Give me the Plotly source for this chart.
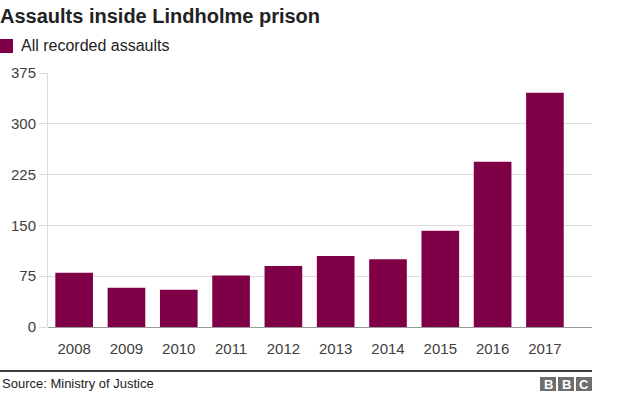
import plotly.graph_objects as go

years = ["2008", "2009", "2010", "2011", "2012", "2013", "2014", "2015", "2016", "2017"]
assaults = [80, 58, 55, 76, 90, 105, 100, 142, 244, 346]
y_ticks = [0, 75, 150, 225, 300, 375]

W, H = 624, 395
L, R, T, B = 48, 32, 73, 68
PW, PH = W - L - R, H - T - B

def px(x):
    return (x - L) / PW

def py(y):
    return (H - B - y) / PH

BAR = "#800048"
FONT = "Liberation Sans, Arial, sans-serif"

fig = go.Figure()
fig.add_trace(go.Bar(x=years, y=assaults, marker=dict(color=BAR, line=dict(width=0)),
                     width=0.72, name="All recorded assaults", showlegend=False,
                     hoverinfo="x+y"))

fig.update_layout(
    width=W, height=H, autosize=False,
    margin=dict(l=L, r=R, t=T, b=B, pad=0),
    paper_bgcolor="white", plot_bgcolor="white",
    font=dict(family=FONT, color="#404040"),
    title=dict(text="<b>Assaults inside Lindholme prison</b>", x=0, xref="container",
               xanchor="left", yref="container", y=1 - 16 / H, yanchor="middle",
               font=dict(size=20, color="#222222", family=FONT), pad=dict(l=0, r=0, t=0, b=0)),
    xaxis=dict(type="category", range=[-0.5, 9.9], showgrid=False, showline=False,
               ticks="outside", ticklen=8, tickcolor="rgba(0,0,0,0)",
               tickfont=dict(size=15, color="#404040"), fixedrange=True),
    yaxis=dict(range=[0, 375], tickvals=y_ticks, showgrid=True, gridcolor="#dcdcdc",
               gridwidth=1, zeroline=True, zerolinecolor="#999999", zerolinewidth=1,
               showline=True, linecolor="#dcdcdc", linewidth=1,
               ticks="outside", ticklen=8, tickcolor="#dcdcdc",
               tickfont=dict(size=15, color="#404040"), fixedrange=True),
    bargap=0.28,
)

shapes = []
# legend square
shapes.append(dict(type="rect", xref="paper", yref="paper",
                   x0=px(0), x1=px(13), y0=py(53), y1=py(39),
                   fillcolor=BAR, line=dict(width=0)))
# footer line
shapes.append(dict(type="line", xref="paper", yref="paper",
                   x0=px(0), x1=px(592), y0=py(371), y1=py(371),
                   line=dict(color="#000000", width=1.5)))
# BBC boxes
for i in range(3):
    x0 = 540 + i * 18
    shapes.append(dict(type="rect", xref="paper", yref="paper",
                       x0=px(x0), x1=px(x0 + 16), y0=py(391), y1=py(377),
                       fillcolor="#6e6e6e", line=dict(width=0)))
fig.update_layout(shapes=shapes)

ann = []
ann.append(dict(text="All recorded assaults", xref="paper", yref="paper",
                x=px(19), y=py(46), xanchor="left", yanchor="middle", showarrow=False,
                font=dict(size=16, color="#222222", family=FONT)))
ann.append(dict(text="Source: Ministry of Justice", xref="paper", yref="paper",
                x=px(0), y=py(383), xanchor="left", yanchor="middle", showarrow=False,
                font=dict(size=13, color="#222222", family=FONT)))
for i, ch in enumerate("BBC"):
    x0 = 540 + i * 18
    ann.append(dict(text="<b>" + ch + "</b>", xref="paper", yref="paper",
                    x=px(x0 + 8), y=py(384), xanchor="center", yanchor="middle",
                    showarrow=False, font=dict(size=13, color="white", family=FONT)))
fig.update_layout(annotations=ann)

fig.write_html("out.html", config={"displayModeBar": False},
               post_script="document.body.style.margin='0';document.body.style.padding='0';")
